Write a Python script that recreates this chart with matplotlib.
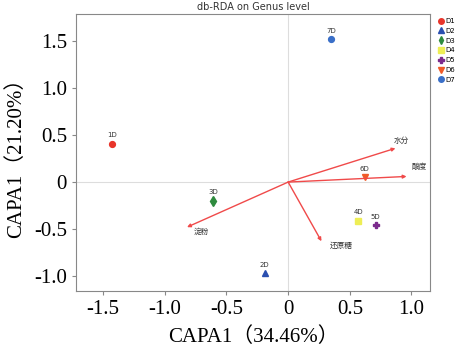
import matplotlib.pyplot as plt
from matplotlib.lines import Line2D

# sample scores
samples = ["1D", "2D", "3D", "4D", "5D", "6D", "7D"]
groups = ["D1", "D2", "D3", "D4", "D5", "D6", "D7"]
x_vals = [-1.43, -0.19, -0.61, 0.57, 0.71, 0.62, 0.35]
y_vals = [0.41, -0.97, -0.20, -0.41, -0.46, 0.05, 1.52]
colors = ["#e8352b", "#2a4fb0", "#2e8b3e", "#eeee55", "#7b2a8c", "#f05a28", "#3a6fc8"]
markers = ["o", "^", "d", "s", "P", "v", "o"]

# environmental factors (arrows)
env_names = ["水分", "酸度", "淀粉", "还原糖"]
env_x = [0.87, 0.96, -0.82, 0.27]
env_y = [0.36, 0.06, -0.48, -0.63]

xticks = [-1.5, -1.0, -0.5, 0, 0.5, 1.0]
xtick_labels = ["-1.5", "-1.0", "-0.5", "0", "0.5", "1.0"]
yticks = [-1.0, -0.5, 0, 0.5, 1.0, 1.5]
ytick_labels = ["-1.0", "-0.5", "0", "0.5", "1.0", "1.5"]

serif = ["Liberation Serif", "Noto Sans CJK SC"]
cjk = ["Noto Sans CJK SC", "DejaVu Sans"]

fig = plt.figure(figsize=(4.64, 3.52), dpi=100)
ax = fig.add_axes([76 / 464, 61 / 352, 354 / 464, 277 / 352])

ax.axhline(0, color="#dddddd", lw=0.8, zorder=0)
ax.axvline(0, color="#dddddd", lw=0.8, zorder=0)

for name, ex, ey in zip(env_names, env_x, env_y):
    ax.annotate("", xy=(ex, ey), xytext=(0, 0),
                arrowprops=dict(arrowstyle="-|>", color="#f04a4a", lw=1.0,
                                mutation_scale=5, shrinkA=0, shrinkB=0))

label_off = {"水分": (0.05, 0.08), "酸度": (0.1, 0.10), "淀粉": (0.12, -0.05), "还原糖": (0.16, -0.05)}
for name, ex, ey in zip(env_names, env_x, env_y):
    dx, dy = label_off[name]
    ax.text(ex + dx, ey + dy, name, fontsize=5.5, family=cjk, ha="center", va="center", color="#333333")

for s, g, x, y, c, m in zip(samples, groups, x_vals, y_vals, colors, markers):
    ms = 4.2 if m != "d" else 5
    ax.plot(x, y, marker=m, color=c, ms=ms, ls="none", label=g)
    ax.text(x, y + 0.06, s, fontsize=5, ha="center", va="bottom", color="#333333")

ax.set_xlim(-1.72, 1.15)
ax.set_ylim(-1.16, 1.79)
ax.set_xticks(xticks)
ax.set_xticklabels(xtick_labels, family=serif, fontsize=15)
ax.set_yticks(yticks)
ax.set_yticklabels(ytick_labels, family=serif, fontsize=15)
ax.tick_params(length=3, color="#888888", width=0.8)
for sp in ax.spines.values():
    sp.set_color("#888888")
    sp.set_linewidth(0.8)

ax.set_xlabel("CAPA1（34.46%）", family=serif, fontsize=15, labelpad=6)
ax.set_ylabel("CAPA1（21.20%）", family=serif, fontsize=15, labelpad=6)
ax.set_title("db-RDA on Genus level", fontsize=7, pad=3, color="#333333")

handles = [Line2D([], [], marker=m, color=c, ls="none", ms=4) for c, m in zip(colors, markers)]
fig.legend(handles, groups, loc="upper left", bbox_to_anchor=(438 / 464, 1 - 18 / 352),
           frameon=False, fontsize=5, handletextpad=0.1, labelspacing=0.55,
           handlelength=1.0, borderpad=0, borderaxespad=0)

fig.savefig("out.png", dpi=100)
